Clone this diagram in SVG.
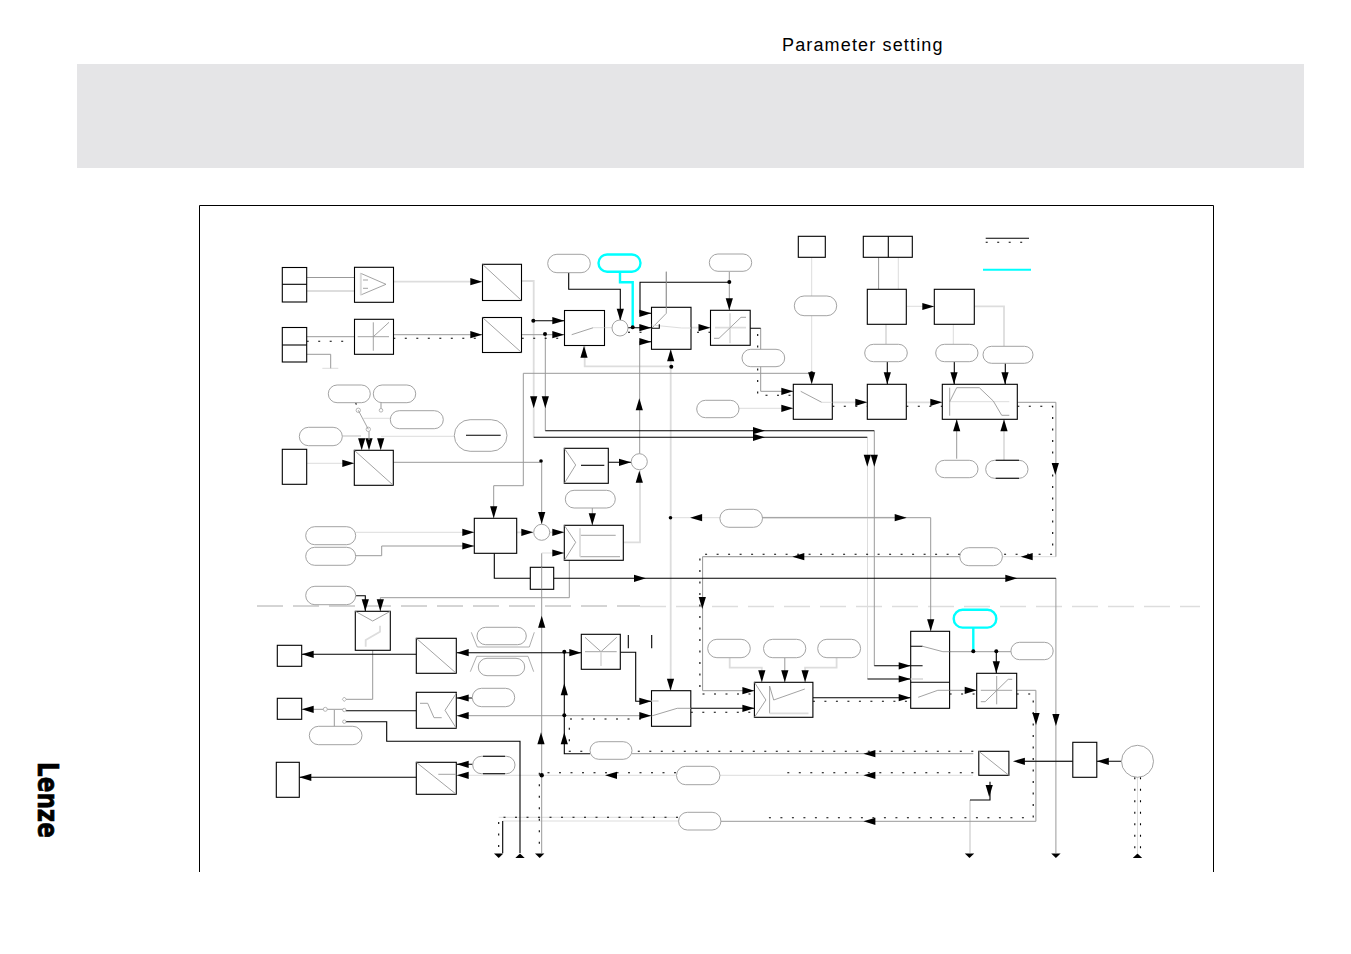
<svg xmlns="http://www.w3.org/2000/svg" xmlns:xlink="http://www.w3.org/1999/xlink" width="1351" height="954" viewBox="0 0 1351 954">
<style>
.b{fill:#fff;stroke:#000;stroke-width:1.1}
.p{fill:#fff;stroke:#999;stroke-width:.9}
.c{fill:#fff;stroke:#0ff;stroke-width:2.4}
.o{fill:#fff;stroke:#999;stroke-width:.9}
.k,.g,.l,.t,.d,.q,.cy{fill:none}
.k{stroke:#000;stroke-width:1.1}
.g{stroke:#999;stroke-width:1}
.l{stroke:#ddd;stroke-width:1}
.t{stroke:#ddd;stroke-width:1.8}
.d{stroke:#000;stroke-width:1.1;stroke-dasharray:2 9.5}
.q{stroke:#999;stroke-width:.9}
.cy{stroke:#0ff;stroke-width:2.4}
.f{fill:#000}
</style>
<defs>
<polygon id="r" points="0,0 -12,-3.6 -12,3.6"/>
<polygon id="L" points="0,0 12,-3.6 12,3.6"/>
<polygon id="u" points="0,0 -3.6,12 3.6,12"/>
<polygon id="v" points="0,0 -3.6,-12 3.6,-12"/>
<polygon id="s" points="0,4.5 -4.7,0 4.7,0"/>
<polygon id="n" points="0,0 -4.7,4.5 4.7,4.5"/>
</defs>
<rect id="band" x="77" y="64" width="1227" height="104" fill="#e5e5e7"/>
<text id="title" x="782" y="51" font-family="Liberation Sans, Arial, sans-serif" font-size="18" letter-spacing="1.15" fill="#000">Parameter setting</text>
<text id="logo" transform="translate(37.500,762) rotate(90)" font-family="DejaVu Sans, sans-serif" font-weight="bold" font-size="29" textLength="76" lengthAdjust="spacingAndGlyphs" fill="#000" stroke="#000" stroke-width=".7">Lenze</text>
<path id="divider" d="M257,606H640" fill="none" stroke="#aaa" stroke-width="1" stroke-dasharray="26 10"/>
<path id="divider2" d="M640,606.500H1200" fill="none" stroke="#ddd" stroke-width="1.500" stroke-dasharray="26 10"/>
<path id="frame" d="M199.500,872V205.500H1213.500V872" fill="none" stroke="#000" stroke-width="1"/>

<g id="connectors">
<path class="t" d="M393.300,281.700H482M521.700,281H533.700V437.300M306.700,291H354M584.700,346V366.300H671.300M670.700,349V693M516.700,532.300H533M550,532.300H564M623.300,542.300H640V470M832.300,402.300H867M906.300,402.300H942M690.800,327.700H710M761,517.700H906M761.800,682V667.700H729.700V657.700M836.600,657.700V667.700H805.100V682M970,800V853M342.300,436H361M886,324V344M974.300,306.300H1004V346.300M1004,419.300V460"/>
<path class="l" d="M306.700,463.300H354M739,408.300H793M811.700,257.300V384M898.300,257.300V289M953.300,324V344M906.700,306.300H934M363.300,418.300H390.300M381,436.300H454.300M541.700,553H564M720,517.700H671M1002.400,556.700H1055.900M702.600,556.700H860M502.700,821H678.600M498.700,817.300H678M720,775.300H973M541.700,775.300H676.500M456.700,775.300H541.700M1137.500,777.300V853M867.500,437.300V679M593,327.700H612M355.700,532.300H474M322.300,368.300H338.300"/>
<path class="g" d="M306.700,277.500H354M306.700,336.700H354.300M393.300,334.700H482M521.700,334.700H564M306.700,354.300H330.700V368.300M545.300,334.700V430.700M639.700,341.700V453.700M393.300,462.300H540M729.300,271.700V310M760.700,328.300V391.300H793M874.300,430.700V665.800M1017.300,402.300H1055.900V556.700M959.800,556.700H702.600V690.700H754M523.300,373.300H811.700M523.300,373.300V485.700H493.700V518M355.700,555.700H381.700V546H474M592.300,508V525M541.700,461V524M569.300,560.300V597.700H380.300V611M372.700,650.300V699.300H346M301.700,709.300H343M334.300,710V726.700M456.700,715.700H651M762,517.700H930.700V631M784.800,657.700V682M1035.900,690.300H1016.700M1035.900,690.300V821.300H720.900M949.600,651.700H1010.900M949.600,690.300H976M1055.900,578V853M632,753.700H973.300M541.700,553.300V853M878.600,257.300V289M666.300,271.700V313.300M1024,761.300H1072.800M956.700,419.300V458.700"/>
<path class="k" d="M533.700,320.700H564M568.700,272.700V289.300H620.300V320M628,327.700H651M640,313.300V282.300H729.300M640,313.300H651M533.700,437.300H867.300M545.300,430.700H874.300M867.500,679H910.700M874.300,665.800H910.700M608.300,462.300H631M750,328.300H760.700M494.300,553.300V578.300H530.300M553.700,578.300H1055.900M355.700,595.700H365.300V611M301.700,654.300H416.300M346,710.700H416.300M346,721.700H386.700V741.300H520V853M299.300,777.300H416.300M456.700,652.700H581.300M564.300,651.700V753.700H590M620.300,652.300H635.700V701.300H651M690.800,708.300H754M812.900,697.700H910.700M996.300,651.300V673M1072.800,761.300H1024M1121.200,761.300H1096.800M990,781.700V800H970M502.700,821V853M472.700,764.300H456.700M472.300,698H456.700M639.700,341.700H651M659,313.300H651M659,342H651M628.300,635V648.300M651.700,635V648.300M887.300,361.700V384M954.300,361.700V384M1005.300,363.300V384"/>
<path class="d" d="M306.700,341.300H345M393.300,338.300H482M521.700,338.300H572M628,332.300H710M748,332.300H757.700V395.300H793M832.300,406.300H867M906.300,406.300H942M1017.300,406.300H1052.700V554.300H699.900V694H754M690.800,712.300H754M812.900,701.300H910.700M949.600,694H977M1016.700,694H1033.200V817.700H760M678,817.300H498.700V853M973.300,751.300H569.300V719H650M973.300,772.700H783.800M676,772.700H543.300M539.300,772.700V853M1134.800,777.300V853M1140.500,777.300V853M355.700,402.700L358,410"/>
<polyline class="cy" points="620,271.700 620,282.300 632.700,282.300 632.700,327.300"/>
<polyline class="cy" points="973.300,628 973.300,651.300"/>
<g class="f">
<use xlink:href="#r" x="482.300" y="281.700"/><use xlink:href="#r" x="482.300" y="334.700"/><use xlink:href="#r" x="564.300" y="320.700"/><use xlink:href="#r" x="564.300" y="334.700"/><use xlink:href="#r" x="651.300" y="327.700"/><use xlink:href="#r" x="651.300" y="313.300"/><use xlink:href="#r" x="651.300" y="341.700"/><use xlink:href="#r" x="710.500" y="327.700"/><use xlink:href="#r" x="793.300" y="391.300"/><use xlink:href="#r" x="793.300" y="408.300"/><use xlink:href="#r" x="867.300" y="402.300"/><use xlink:href="#r" x="942.300" y="402.300"/><use xlink:href="#r" x="934.300" y="306.500"/><use xlink:href="#r" x="765" y="430.700"/><use xlink:href="#r" x="765" y="437.300"/><use xlink:href="#r" x="354.300" y="463.300"/><use xlink:href="#r" x="631" y="462.300"/><use xlink:href="#r" x="474.300" y="532.300"/><use xlink:href="#r" x="474.300" y="546"/><use xlink:href="#r" x="533.300" y="532.300"/><use xlink:href="#r" x="564.300" y="532.300"/><use xlink:href="#r" x="564.300" y="553"/><use xlink:href="#r" x="646" y="578.300"/><use xlink:href="#r" x="1017.300" y="578.300"/><use xlink:href="#r" x="581.300" y="652.700"/><use xlink:href="#r" x="651.300" y="701.300"/><use xlink:href="#r" x="651.300" y="715.700"/><use xlink:href="#r" x="754.400" y="690.700"/><use xlink:href="#r" x="754.400" y="708.300"/><use xlink:href="#r" x="906.700" y="517.700"/><use xlink:href="#r" x="910.700" y="665.800"/><use xlink:href="#r" x="910.700" y="679"/><use xlink:href="#r" x="910.700" y="697.700"/><use xlink:href="#r" x="976.700" y="690.300"/>
<use xlink:href="#L" x="301.700" y="654.300"/><use xlink:href="#L" x="301.700" y="709.300"/><use xlink:href="#L" x="299.300" y="777.300"/><use xlink:href="#L" x="456.700" y="652.700"/><use xlink:href="#L" x="456.700" y="698"/><use xlink:href="#L" x="456.700" y="715.700"/><use xlink:href="#L" x="456.700" y="764.300"/><use xlink:href="#L" x="456.700" y="775.300"/><use xlink:href="#L" x="605" y="775.300"/><use xlink:href="#L" x="690.100" y="517.700"/><use xlink:href="#L" x="792.300" y="556.700"/><use xlink:href="#L" x="1020.700" y="556.700"/><use xlink:href="#L" x="863.400" y="753.700"/><use xlink:href="#L" x="863.400" y="775.300"/><use xlink:href="#L" x="863.400" y="821.300"/><use xlink:href="#L" x="1012.900" y="761.300"/><use xlink:href="#L" x="1096.800" y="761.300"/>
<use xlink:href="#v" x="533.700" y="408.300"/><use xlink:href="#v" x="545.300" y="408.300"/><use xlink:href="#v" x="620.300" y="320.700"/><use xlink:href="#v" x="729.300" y="310.300"/><use xlink:href="#v" x="811.700" y="384.300"/><use xlink:href="#v" x="887.300" y="384.300"/><use xlink:href="#v" x="954" y="384.300"/><use xlink:href="#v" x="1005" y="384.300"/><use xlink:href="#v" x="867.300" y="466.700"/><use xlink:href="#v" x="874.300" y="466.700"/><use xlink:href="#v" x="1055.300" y="475"/><use xlink:href="#v" x="361.700" y="450.300"/><use xlink:href="#v" x="369" y="450.300"/><use xlink:href="#v" x="380.700" y="450.300"/><use xlink:href="#v" x="493.700" y="518.300"/><use xlink:href="#v" x="541.700" y="524"/><use xlink:href="#v" x="592.300" y="525.300"/><use xlink:href="#v" x="365.300" y="611.300"/><use xlink:href="#v" x="380.300" y="611.300"/><use xlink:href="#v" x="702.300" y="609"/><use xlink:href="#v" x="670.500" y="690.700"/><use xlink:href="#v" x="930.700" y="631.300"/><use xlink:href="#v" x="761.800" y="682.300"/><use xlink:href="#v" x="784.800" y="682.300"/><use xlink:href="#v" x="805.100" y="682.300"/><use xlink:href="#v" x="996.300" y="673.300"/><use xlink:href="#v" x="1036" y="725"/><use xlink:href="#v" x="1055.900" y="726"/><use xlink:href="#v" x="989.200" y="797"/>
<use xlink:href="#u" x="584" y="345.700"/><use xlink:href="#u" x="670.700" y="349.300"/><use xlink:href="#u" x="639.300" y="398.300"/><use xlink:href="#u" x="639.300" y="470.700"/><use xlink:href="#u" x="956.700" y="419.300"/><use xlink:href="#u" x="1004" y="419.300"/><use xlink:href="#u" x="541.700" y="615.700"/><use xlink:href="#u" x="541" y="732.300"/><use xlink:href="#u" x="564.300" y="683.300"/><use xlink:href="#u" x="564.300" y="732.300"/>
<use xlink:href="#s" x="498.700" y="853.500"/><use xlink:href="#s" x="539.700" y="853.500"/><use xlink:href="#s" x="969.500" y="853.500"/><use xlink:href="#s" x="1055.900" y="853.500"/><use xlink:href="#n" x="520" y="853.500"/><use xlink:href="#n" x="1137.500" y="853.500"/>
<circle cx="533.300" cy="320.700" r="2"/><circle cx="545" cy="334" r="2"/><circle cx="632.700" cy="327.300" r="2"/><circle cx="729.300" cy="282" r="2"/><circle cx="671.300" cy="366.700" r="2"/><circle cx="811.700" cy="373.300" r="2"/><circle cx="541" cy="461" r="1.800"/><circle cx="670.500" cy="517.700" r="1.800"/><circle cx="564.300" cy="651.700" r="2"/><circle cx="564.300" cy="715.300" r="2"/><circle cx="541.700" cy="775.300" r="2.200"/><circle cx="973.300" cy="651.300" r="2"/><circle cx="996.300" cy="651.300" r="2"/>
</g>
<g fill="#fff" stroke="#999" stroke-width=".7"><circle cx="358.300" cy="410.300" r="2.200"/><circle cx="381" cy="410.300" r="1.800"/><circle cx="368.300" cy="429.300" r="2.200"/><circle cx="325.300" cy="709.300" r="2"/><circle cx="344.300" cy="710" r="1.700"/><circle cx="344.300" cy="721.700" r="1.700"/><polygon points="344.300,697 346.300,699.300 344.300,701.500 342.300,699.300"/></g>
<path class="q" d="M358.300,410.300L368.300,429.300"/>
<path class="g" d="M381,402.700V408.500M369,431.500V440"/>
</g>

<g id="n-input1"><rect class="b" x="282.300" y="267.500" width="24.400" height="34.500"/><path class="k" d="M282.300,284.300H306.700"/></g>
<g id="n-input2"><rect class="b" x="282.300" y="327.500" width="24.400" height="34.500"/><path class="k" d="M282.300,345H306.700"/></g>
<g id="n-amp"><rect class="b" x="354.500" y="267.300" width="39" height="35"/><polygon points="360.700,273.300 386,284.300 360.700,295" fill="none" stroke="#999" stroke-width=".9"/><path class="t" d="M360.700,273.300V295"/><path class="q" d="M363,280H368M363,288.300H368"/></g>
<g id="n-limit"><rect class="b" x="354.500" y="319.300" width="39" height="35"/><path class="q" d="M357.700,336.700H389M373.300,322.300V350.700M373.300,336.700L389,322.300"/></g>
<g id="n-da1"><rect class="b" x="482.500" y="264.300" width="39" height="36.200"/><path class="q" d="M482.500,264.300L521.500,300.500"/></g>
<g id="n-da2"><rect class="b" x="482.500" y="317.500" width="39" height="35"/><path class="q" d="M482.500,317.500L521.500,352.500"/></g>
<g id="n-ramp"><rect class="b" x="564.500" y="310.500" width="40" height="35"/><path class="q" d="M571.700,334.700L593.300,327.700"/><path class="l" d="M593.300,327.700H604.500"/></g>
<circle id="n-sum1" class="o" cx="620" cy="328" r="8"/>
<g id="n-switch1"><rect class="b" x="651.500" y="307.300" width="39.500" height="42"/><path class="q" d="M666.300,271.700V313.300L651.700,328.300"/><path class="l" d="M651.700,325L681.700,328H690.800"/><path class="k" d="M659.300,324.300V328.300H651.700"/></g>
<g id="n-lin1"><rect class="b" x="710.500" y="310.300" width="39.700" height="35"/><path class="t" d="M715,327.700H746M730,313.300V343.300"/><path class="q" d="M714,338.300H719L741,317.300H746"/></g>
<rect id="n-top1" class="b" x="798.300" y="236.300" width="27" height="21"/>
<g id="n-top2"><rect class="b" x="863.300" y="236.300" width="49" height="21"/><path class="k" d="M888.300,236.300V257.300"/></g>
<rect id="n-box1" class="b" x="867.300" y="289.300" width="39" height="35"/>
<rect id="n-box2" class="b" x="934.300" y="289.300" width="40" height="35"/>
<g id="n-sel2"><rect class="b" x="793.300" y="384.300" width="39" height="35"/><path class="q" d="M800.700,391.300L821.700,402.300"/><path class="l" d="M821.700,402.300H832.300"/></g>
<rect id="n-box3" class="b" x="867.300" y="384.300" width="39" height="35"/>
<g id="n-curve1"><rect class="b" x="942.300" y="384.300" width="75" height="35"/><path class="l" d="M949.700,401.700H1009.300"/><path class="q" d="M949.700,387.700V415.700M949.700,401.700L956.700,387.700H979.300L993.300,401L1001.700,415.300H1009.300"/></g>
<g id="n-legend"><path class="k" d="M985.700,238.300H1029"/><path class="d" d="M985.700,242.300H1029"/><path class="cy" d="M983,269.700H1031" style="stroke-width:2"/></g>
<g id="n-ana"><rect class="b" x="282.300" y="449.300" width="24.400" height="35"/></g>
<g id="n-conv"><rect class="b" x="354.300" y="450.300" width="39" height="35"/><path class="q" d="M354.300,450.300L393.300,485.300"/></g>
<g id="n-sel1"><rect class="b" x="564.300" y="448.300" width="44" height="35"/><path class="q" d="M564.300,448.300L575.700,465L564.300,483.300"/><path class="k" d="M581,465.300H604.300"/></g>
<circle id="n-sum2" class="o" cx="639.300" cy="461.700" r="8"/>
<rect id="n-big" class="b" x="474.300" y="518.300" width="42.400" height="35"/>
<circle id="n-sum3" class="o" cx="541.700" cy="532.300" r="8"/>
<g id="n-lim2"><rect class="b" x="564.300" y="525.300" width="59" height="35"/><path class="q" d="M564.300,525.300L575.700,542.300L564.300,560.300M580,535.300H615.700M580,556.700H620"/><path class="t" d="M580,528.300V556.700"/></g>
<g id="n-small"><rect class="b" x="530.300" y="567.300" width="23.400" height="22"/><path class="g" d="M541.700,567.300V589.300"/></g>
<g id="n-y"><rect class="b" x="355.300" y="611.300" width="35" height="39"/><path class="q" d="M355.300,611.300L372.700,621L390.300,611.300"/><path class="t" d="M380,625.700V631.700L365.700,640V646.700"/></g>
<g id="n-ao"><rect class="b" x="416.300" y="638.300" width="40" height="35"/><path class="q" d="M416.300,638.300L456.300,673.300"/></g>
<rect id="n-o1" class="b" x="277.300" y="645.300" width="24.400" height="21"/>
<rect id="n-o2" class="b" x="277.300" y="698.300" width="24.400" height="21"/>
<g id="n-s"><rect class="b" x="416.300" y="692.300" width="40" height="36"/><path class="q" d="M456.300,693.300L445,710.300L456.300,728.300M420,703.300H427.700L434,717.700H441.700"/></g>
<rect id="n-o3" class="b" x="276.300" y="762.300" width="23" height="35"/>
<g id="n-e"><rect class="b" x="416.300" y="762.300" width="40" height="32"/><path class="q" d="M416.300,762.300L456.300,794.300M438.300,774.300H456.300"/></g>
<g id="n-star"><rect class="b" x="581.300" y="634.300" width="39" height="35"/><path class="q" d="M585,651.700H616.700M585,637.300L601,651.700L616.700,637.300"/><path class="t" d="M601,651.700V666"/></g>
<g id="n-switch2"><rect class="b" x="651.500" y="690.700" width="39.300" height="35.600"/><path class="q" d="M651.500,716L677.200,708.300H690.800"/><path class="t" d="M651.500,701H658.600"/></g>
<g id="n-curve2"><rect class="b" x="754.400" y="682.300" width="58.500" height="35"/><path class="q" d="M754.400,682.300L765.900,700L754.400,717.300M769.600,686V713.300M769.600,686L773.700,700L804.800,689"/><path class="t" d="M769.600,713.300H808.500"/></g>
<g id="n-sel3"><rect class="b" x="910.700" y="631.300" width="38.900" height="77"/><path class="k" d="M910.700,682.300H949.600M910.700,646.300H922.600M910.700,665.800H922.600"/><path class="t" d="M910.700,679H923"/><path class="q" d="M922.600,646.300L942.900,651.700H949.600M918.200,697.300L937.800,690.300H949.600"/></g>
<g id="n-lin2"><rect class="b" x="976.700" y="673.300" width="40" height="35"/><path class="q" d="M980.800,690.300H1012.200M996.700,676V704.300M980.800,701.700H985.200L1008.200,679.300H1012.200"/></g>
<g id="n-enc"><rect class="b" x="978.800" y="751.300" width="30.100" height="24"/><path class="q" d="M978.800,751.300L1008.900,775.300"/></g>
<rect id="n-res" class="b" x="1072.800" y="742.300" width="24" height="35"/>
<circle id="n-motor" class="o" cx="1137.500" cy="761.300" r="16"/>
<g id="n-trap" fill="none" stroke="#999" stroke-width=".8"><polyline points="471.300,632.300 477.300,647 529.300,647 534.300,632.300"/><polyline points="470.300,671.700 476.700,656.300 528,656.300 533.700,671.700"/></g>

<g id="pills">
<rect class="p" x="547.700" y="254.300" width="42.600" height="18.400" rx="9.200"/>
<rect class="c" x="598.500" y="254.500" width="42" height="17.200" rx="8.600"/>
<rect class="p" x="709.300" y="254" width="42.400" height="17.300" rx="8.600"/>
<rect class="p" x="794.300" y="296" width="42.400" height="19.700" rx="9.800"/>
<rect class="p" x="742" y="349.300" width="42.700" height="17.400" rx="8.700"/>
<rect class="p" x="864.700" y="344.300" width="42.600" height="17.400" rx="8.700"/>
<rect class="p" x="935.700" y="344.300" width="42.300" height="17.400" rx="8.700"/>
<rect class="p" x="983" y="346.300" width="50" height="17" rx="8.500"/>
<rect class="p" x="696.700" y="400.300" width="42.300" height="17.400" rx="8.700"/>
<rect class="p" x="935.700" y="460.300" width="42.300" height="17.400" rx="8.700"/>
<rect class="p" x="985.700" y="460.300" width="42.300" height="18" rx="9"/>
<rect class="p" x="328.300" y="385" width="42" height="17.700" rx="8.800"/>
<rect class="p" x="373.300" y="385" width="42.400" height="17.700" rx="8.800"/>
<rect class="p" x="390.300" y="410.700" width="53" height="18" rx="9"/>
<rect class="p" x="299.300" y="427.300" width="43" height="18.400" rx="9.200"/>
<rect class="p" x="454.300" y="419.700" width="52.700" height="31.600" rx="15.800"/>
<rect class="p" x="565.300" y="490.300" width="50" height="17.700" rx="8.800"/>
<rect class="p" x="305.700" y="526.700" width="50" height="18" rx="9"/>
<rect class="p" x="305.700" y="547.300" width="50" height="18" rx="9"/>
<rect class="p" x="305.700" y="586.300" width="50" height="18.400" rx="9.200"/>
<rect class="p" x="477" y="627.300" width="49.300" height="17.400" rx="8.700"/>
<rect class="p" x="478.300" y="658.300" width="46.400" height="17.400" rx="8.700"/>
<rect class="p" x="472.300" y="688.300" width="42.400" height="18.400" rx="9.200"/>
<rect class="p" x="309.300" y="726.300" width="52.700" height="18.400" rx="9.200"/>
<rect class="p" x="472.700" y="756.300" width="42.300" height="17.400" rx="8.700"/>
<rect class="p" x="590" y="741.700" width="42" height="17.600" rx="8.800"/>
<rect class="p" x="719.900" y="509.300" width="42.600" height="18" rx="9"/>
<rect class="p" x="959.800" y="547.700" width="42.600" height="18" rx="9"/>
<rect class="c" x="953.700" y="609.800" width="42.600" height="17.800" rx="8.900"/>
<rect class="p" x="707.700" y="639.300" width="42.600" height="18.400" rx="9.200"/>
<rect class="p" x="763.500" y="639.300" width="42.300" height="18.400" rx="9.200"/>
<rect class="p" x="817.700" y="639.300" width="42.900" height="18.400" rx="9.200"/>
<rect class="p" x="1010.900" y="642.300" width="42.300" height="17.400" rx="8.700"/>
<rect class="p" x="676.500" y="766.300" width="43.400" height="18.400" rx="9.200"/>
<rect class="p" x="678.600" y="812.300" width="42.300" height="17.700" rx="8.800"/>
</g>
<path id="pill-marks" class="k" d="M466,435.300H500.700M995.700,460.300H1019M995.700,478.300H1019M483,756.300H505M483,773.700H505"/>
</svg>
